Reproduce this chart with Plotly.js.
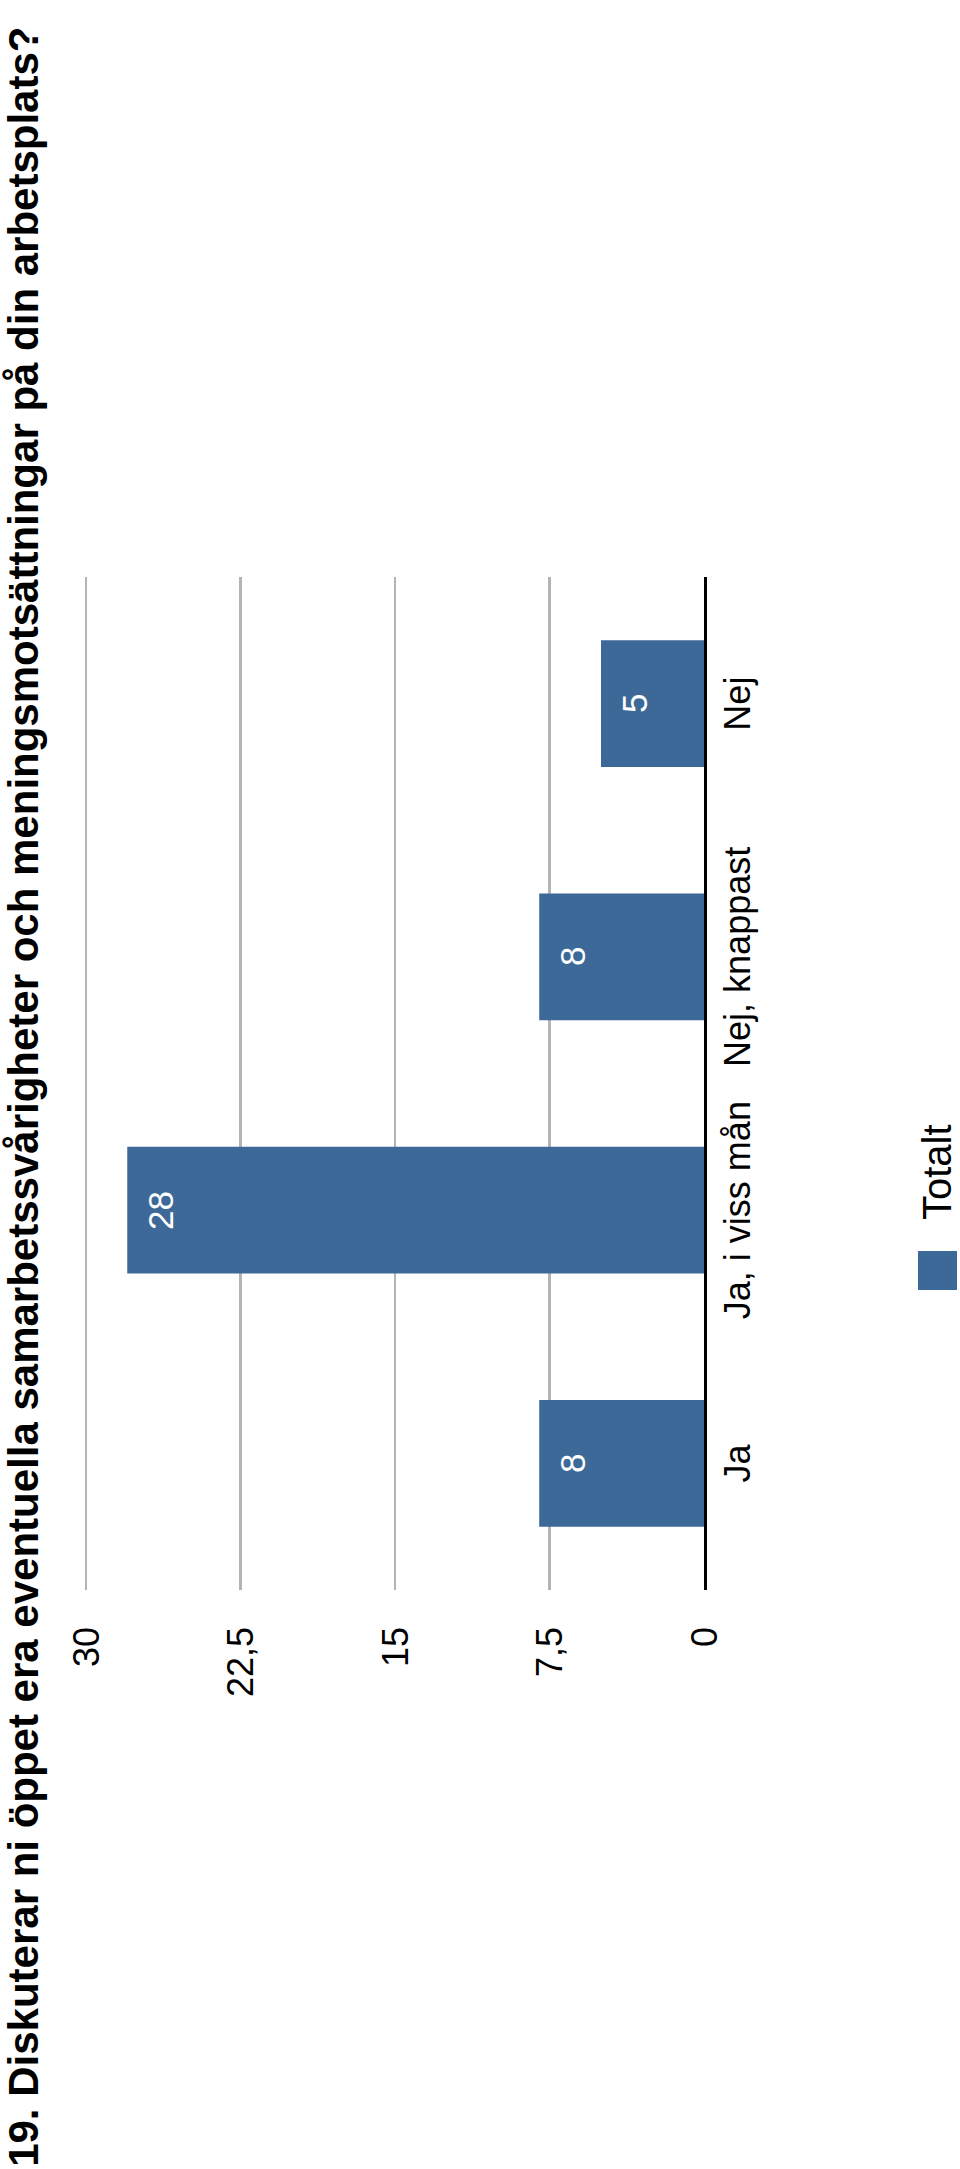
<!DOCTYPE html>
<html>
<head>
<meta charset="utf-8">
<script src="https://cdn.plot.ly/plotly-3.0.1.min.js"></script>
<style>
  html, body { margin: 0; padding: 0; overflow: hidden; background: #fff; }
  /* chart is drawn landscape and turned a quarter to the left */
  #chart {
    position: absolute; left: 0; top: 0;
    width: 2169px; height: 960px;
    transform-origin: 0 0;
    transform: translateY(2169px) rotate(-90deg);
  }
</style>
</head>
<body>
<div id="chart"></div>
<script>
var categories = ["Ja", "Ja, i viss mån", "Nej, knappast", "Nej"];
var totals = [8, 28, 8, 5];
var seriesName = "Totalt";
var tickValues = [0, 7.5, 15, 22.5, 30];
var tickLabels = ["0", "7,5", "15", "22,5", "30"];
var titleText = "19. Diskuterar ni öppet era eventuella samarbetssvårigheter och meningsmotsättningar på din arbetsplats?";

var W = 2169, H = 960;
var margin = { l: 579, r: 577, t: 84, b: 256, pad: 0 };
var plotW = W - margin.l - margin.r;
var plotH = H - margin.t - margin.b;
var barColor = "#3c6997";
var font = "Liberation Sans, Arial, Helvetica, sans-serif";

// pixel position on the page -> paper coordinates
function px(x) { return (x - margin.l) / plotW; }
function py(y) { return (H - margin.b - y) / plotH; }

var data = [{
    type: "bar",
    x: categories,
    y: totals,
    name: seriesName,
    marker: { color: barColor },
    hoverinfo: "none"
}];

var valueLabels = categories.map(function(c, i) {
    return {
        x: c, y: totals[i], xref: "x", yref: "y",
        text: String(totals[i]),
        showarrow: false, yanchor: "top", yshift: -12,
        font: { family: font, size: 35, color: "#ffffff" }
    };
});

var layout = {
    width: W, height: H,
    margin: margin,
    paper_bgcolor: "#ffffff",
    plot_bgcolor: "#ffffff",
    font: { family: font, color: "#000000" },
    showlegend: false,
    bargap: 0.5,
    title: {
        text: "<b>" + titleText + "</b>",
        font: { family: font, size: 42, color: "#000000" },
        xref: "container", x: 0.001, xanchor: "left",
        yref: "container", y: 1 - 9 / H, yanchor: "top"
    },
    xaxis: {
        type: "category",
        showgrid: false,
        showline: true, linecolor: "#000000", linewidth: 3,
        ticks: "",
        ticklabelstandoff: 0,
        tickfont: { family: font, size: 36, color: "#000000" }
    },
    yaxis: {
        // a little headroom so the gridline at 30 is drawn
        range: [0, 30.1],
        tickvals: tickValues,
        ticktext: tickLabels,
        showgrid: true, gridcolor: "#b4b4b4", gridwidth: 2.5,
        zeroline: false, showline: false,
        ticks: "",
        ticklabelstandoff: 36,
        tickfont: { family: font, size: 36, color: "#000000" }
    },
    shapes: [{
        type: "rect", xref: "paper", yref: "paper",
        x0: px(879), x1: px(918), y0: py(957), y1: py(918),
        fillcolor: barColor, line: { width: 0 }
    }],
    annotations: valueLabels.concat([{
        xref: "paper", yref: "paper",
        x: px(947), y: py(937),
        xanchor: "left", yanchor: "middle",
        text: seriesName, showarrow: false,
        font: { family: font, size: 40, color: "#000000" }
    }])
};

Plotly.newPlot("chart", data, layout, { staticPlot: true, displayModeBar: false });
</script>
</body>
</html>
